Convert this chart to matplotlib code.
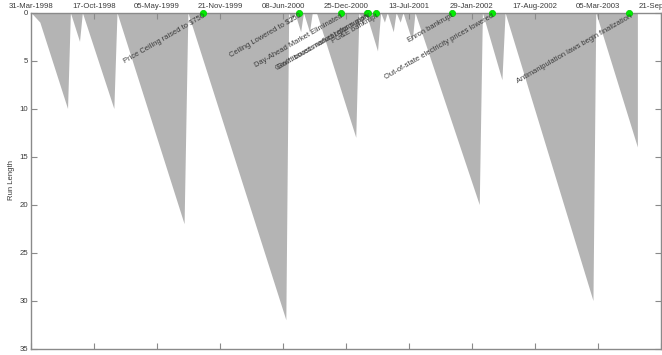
import datetime as dt
import matplotlib
matplotlib.use("Agg")
import matplotlib.pyplot as plt
import matplotlib.dates as mdates

# Series start date; all day values below are offsets from it
start_date = dt.date(1998, 3, 31)

# Most-probable run length (vertices of the sawtooth), day offset -> run length
run_days = [0, 28, 116, 125, 154, 163, 263, 273, 486, 498, 809, 818, 828, 837,
            856, 865, 884, 893, 906, 1031, 1041, 1053, 1063, 1100, 1110, 1122,
            1131, 1150, 1159, 1172, 1181, 1210, 1219, 1423, 1433, 1495, 1505,
            1784, 1793, 1925]
run_length = [0, 1, 10, 0, 3, 0, 10, 0, 22, 0, 32, 0, 1, 0,
              2, 0, 2, 0, 0, 13, 0, 1, 0, 4, 0, 1,
              0, 2, 0, 1, 0, 3, 0, 20, 0, 7, 0,
              30, 0, 14]

# Market events marked on the timeline
event_days = [545, 850, 984, 1066, 1069, 1094, 1335, 1464, 1900]
event_labels = [
    "Price Ceiling raised to $750",
    "Ceiling Lowered to $250",
    "Day-Ahead Market Eliminated",
    "Gov't issues market reform plan",
    "Gov't boosts natural gas supply",
    "PG&E bankrupt",
    "Enron bankrupt",
    "Out-of-state electricity prices lowered",
    "Antimanipulation laws begin finalization",
]

tick_step_days = 200
n_ticks = 11
y_ticks = [0, 5, 10, 15, 20, 25, 30, 35]


def to_num(days):
    return [mdates.date2num(start_date + dt.timedelta(days=d)) for d in days]


plt.rcParams["font.family"] = ["Liberation Sans", "DejaVu Sans"]
text_color = "#3a3a3a"
spine_color = "#8a8a8a"

fig = plt.figure(figsize=(6.62, 3.55), dpi=100)
x0, x1 = 31 / 662, 661 / 662
y0, y1 = (355 - 348.5) / 355, (355 - 12.5) / 355
ax = fig.add_axes([x0, y0, x1 - x0, y1 - y0])

xs = to_num(run_days)
ax.fill_between(xs, 0, run_length, color="#b4b4b4", lw=0)

ex = to_num(event_days)
ax.plot(ex, [0] * len(ex), "o", color="#00ee00", ms=4.5, mec="#00cc00",
        mew=0.5, clip_on=False, zorder=5)
for xv, lab in zip(ex, event_labels):
    ax.text(xv, 0, lab, rotation=30, rotation_mode="anchor", ha="right",
            va="top", fontsize=5.4, color=text_color, zorder=6)

ax.set_ylim(35, 0)
ax.set_xlim(to_num([0])[0], to_num([1976])[0])

tick_days = [i * tick_step_days for i in range(n_ticks)]
ax.set_xticks(to_num(tick_days))
ax.xaxis.set_major_formatter(mdates.DateFormatter("%d-%b-%Y"))
ax.set_yticks(y_ticks)
ax.tick_params(axis="x", which="both", top=True, bottom=True, labeltop=True,
               labelbottom=False, direction="in", length=4, width=0.8,
               color=spine_color, labelsize=5.6, labelcolor=text_color, pad=2)
ax.tick_params(axis="y", which="both", left=True, right=True, direction="in",
               length=4, width=0.8, color=spine_color, labelsize=5.6,
               labelcolor=text_color, pad=2)
for s in ax.spines.values():
    s.set_color(spine_color)
    s.set_linewidth(1.0)

ax.set_ylabel("Run Length", fontsize=5.6, color=text_color, labelpad=3)

fig.savefig("out.png", dpi=100)
